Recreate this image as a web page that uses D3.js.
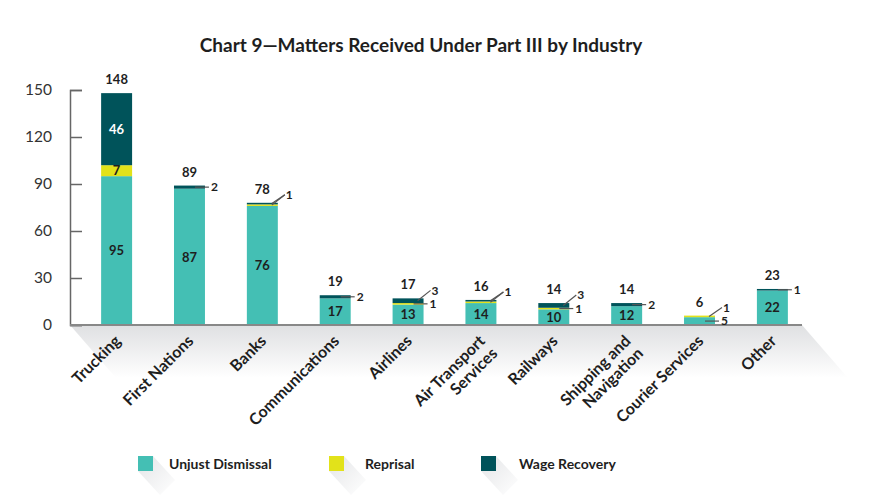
<!DOCTYPE html>
<html>
<head>
<meta charset="utf-8">
<script src="https://cdn.jsdelivr.net/npm/d3@7"></script>
<style>
  body { margin: 0; background: #fff; }
  svg { font-family: Lato, "Open Sans", sans-serif; }
</style>
</head>
<body>
<div id="chart"></div>
<script>
const categories = ["Trucking", "First Nations", "Banks", "Communications", "Airlines",
  "Air Transport\nServices", "Railways", "Shipping and\nNavigation", "Courier Services", "Other"];
const unjustDismissal = [95, 87, 76, 17, 13, 14, 10, 12, 5, 22];
const reprisal = [7, 0, 1, 0, 1, 1, 1, 0, 1, 0];
const wageRecovery = [46, 2, 1, 2, 3, 1, 3, 2, 0, 1];
const seriesNames = ["Unjust Dismissal", "Reprisal", "Wage Recovery"];
const yTicks = [0, 30, 60, 90, 120, 150];

const colors = ["#44bfb4", "#e2e21a", "#00535a"];
const width = 882, height = 497;

const svg = d3.select("#chart").append("svg")
  .attr("width", width)
  .attr("height", height);

const defs = svg.append("defs");
const floorGrad = defs.append("linearGradient").attr("id", "floor")
  .attr("x1", 0).attr("y1", 0).attr("x2", 0).attr("y2", 1);
floorGrad.append("stop").attr("offset", "0%").attr("stop-color", "#dfe0e2");
floorGrad.append("stop").attr("offset", "100%").attr("stop-color", "#ffffff");
const swGrad = defs.append("linearGradient").attr("id", "swshadow")
  .attr("x1", 0).attr("y1", 0).attr("x2", 1).attr("y2", 1);
swGrad.append("stop").attr("offset", "0%").attr("stop-color", "#e4e5e7");
swGrad.append("stop").attr("offset", "100%").attr("stop-color", "#ffffff");

const x = d3.scaleBand()
  .domain(categories)
  .range([80, 809])
  .paddingInner(0.575)
  .paddingOuter(0.29);

const y = d3.scaleLinear().domain([0, 150]).range([325, 90]);

const rows = categories.map((c, i) => ({
  cat: c, s0: unjustDismissal[i], s1: reprisal[i], s2: wageRecovery[i]
}));
const stacked = d3.stack().keys(["s0", "s1", "s2"])(rows);

// title
svg.append("text")
  .attr("x", 421).attr("y", 52)
  .attr("text-anchor", "middle")
  .attr("font-size", 19).attr("font-weight", 700)
  .attr("fill", "#1e1e1e")
  .text("Chart 9\u2014Matters Received Under Part III by Industry");

// floor shadow under the axis
svg.append("polygon")
  .attr("points", [[70, 325], [802, 325], [848, 378], [116, 378]].join(" "))
  .attr("fill", "url(#floor)");

// y axis
const yAxis = d3.axisLeft(y).tickValues(yTicks).tickSize(-12).tickPadding(18);
const gy = svg.append("g").attr("transform", "translate(70,0)").call(yAxis);
gy.select(".domain").attr("stroke", "#666").attr("stroke-width", 1.5);
gy.selectAll(".tick line").attr("stroke", "#666").attr("stroke-width", 1.5);
gy.selectAll(".tick text").attr("font-size", 15.5).attr("fill", "#333")
  .attr("font-family", "Lato");

// bars
const layers = svg.append("g").selectAll("g")
  .data(stacked)
  .enter().append("g")
  .attr("fill", (d, i) => colors[i]);

layers.selectAll("rect")
  .data(d => d.map(v => Object.assign(v, { key: d.key })))
  .enter().append("rect")
  .attr("x", d => x(d.data.cat))
  .attr("width", x.bandwidth())
  .attr("y", d => y(d[1]))
  .attr("height", d => y(d[0]) - y(d[1]));

// x axis line
svg.append("line")
  .attr("x1", 70).attr("x2", 802).attr("y1", 325).attr("y2", 325)
  .attr("stroke", "#888").attr("stroke-width", 2);

// labels
const labels = svg.append("g").attr("font-size", 13).attr("font-weight", 700);
const leaders = svg.append("g").attr("stroke", "#555").attr("stroke-width", 1.2).attr("fill", "none");

categories.forEach((cat, i) => {
  const bx = x(cat), br = bx + x.bandwidth(), cx = bx + x.bandwidth() / 2;
  const segs = stacked.map((layer, k) => ({ k, v0: layer[i][0], v1: layer[i][1], val: layer[i][1] - layer[i][0] }))
    .filter(s => s.val > 0);
  const total = d3.sum(segs, s => s.val);
  const top = y(total);

  labels.append("text")
    .attr("x", cx).attr("y", top - 9)
    .attr("text-anchor", "middle").attr("fill", "#1e1e1e")
    .text(total);

  const outside = [];
  segs.forEach(s => {
    const h = y(s.v0) - y(s.v1);
    const mid = (y(s.v0) + y(s.v1)) / 2;
    if (h >= 10) {
      labels.append("text")
        .attr("x", cx).attr("y", mid)
        .attr("dy", "0.36em")
        .attr("text-anchor", "middle")
        .attr("fill", s.k === 2 ? "#fff" : "#1e1e1e")
        .text(s.val);
    } else {
      outside.push(Object.assign(s, { mid }));
    }
  });

  if (outside.length === 0) return;
  outside.sort((a, b) => b.k - a.k);
  const diagEnd = [br + 7, top - 8];
  let rest = outside;
  if (outside.length > 1) {
    const first = outside[0];
    let merged = [first];
    if (outside[1].val === first.val) merged.push(outside[1]);
    merged.forEach(s => {
      leaders.append("line")
        .attr("x1", br - 6).attr("y1", s.mid)
        .attr("x2", diagEnd[0]).attr("y2", diagEnd[1]);
    });
    labels.append("text")
      .attr("x", br + 8).attr("y", diagEnd[1]).attr("dy", "0.36em")
      .attr("font-size", 12)
      .attr("fill", "#1e1e1e").text(first.val);
    rest = outside.slice(merged.length);
  }
  rest.forEach(s => {
    leaders.append("line")
      .attr("x1", br - 10).attr("y1", s.mid)
      .attr("x2", br + 4).attr("y2", s.mid);
    labels.append("text")
      .attr("x", br + 6).attr("y", s.mid).attr("dy", "0.36em")
      .attr("font-size", 12)
      .attr("fill", "#1e1e1e").text(s.val);
  });
});

// category labels
const catLabels = svg.append("g")
  .attr("font-size", 16).attr("font-weight", 700).attr("fill", "#1e1e1e");
categories.forEach(cat => {
  const cx = x(cat) + x.bandwidth() / 2;
  const lines = cat.split("\n");
  const t = catLabels.append("text")
    .attr("transform", `translate(${cx + 5},${342}) rotate(-45)`)
    .attr("text-anchor", "end");
  lines.forEach((ln, j) => {
    t.append("tspan").attr("x", 0).attr("dy", j === 0 ? 0 : "1.1em").text(ln);
  });
});

// legend
const legendSwatchX = [138, 329, 481];
const legendTextX = [169, 365, 519];
const legend = svg.append("g");
seriesNames.forEach((name, i) => {
  const sx = legendSwatchX[i], sy = 456, s = 15;
  legend.append("polygon")
    .attr("points", [[sx, sy + s], [sx + s, sy], [sx + s + 22, sy + 24], [sx + 22, sy + s + 24]].join(" "))
    .attr("fill", "url(#swshadow)");
  legend.append("rect")
    .attr("x", sx).attr("y", sy).attr("width", s).attr("height", s)
    .attr("fill", colors[i]);
  legend.append("text")
    .attr("x", legendTextX[i]).attr("y", sy + s / 2).attr("dy", "0.36em")
    .attr("font-size", 14).attr("font-weight", 700).attr("fill", "#1e1e1e")
    .text(name);
});
</script>
</body>
</html>
